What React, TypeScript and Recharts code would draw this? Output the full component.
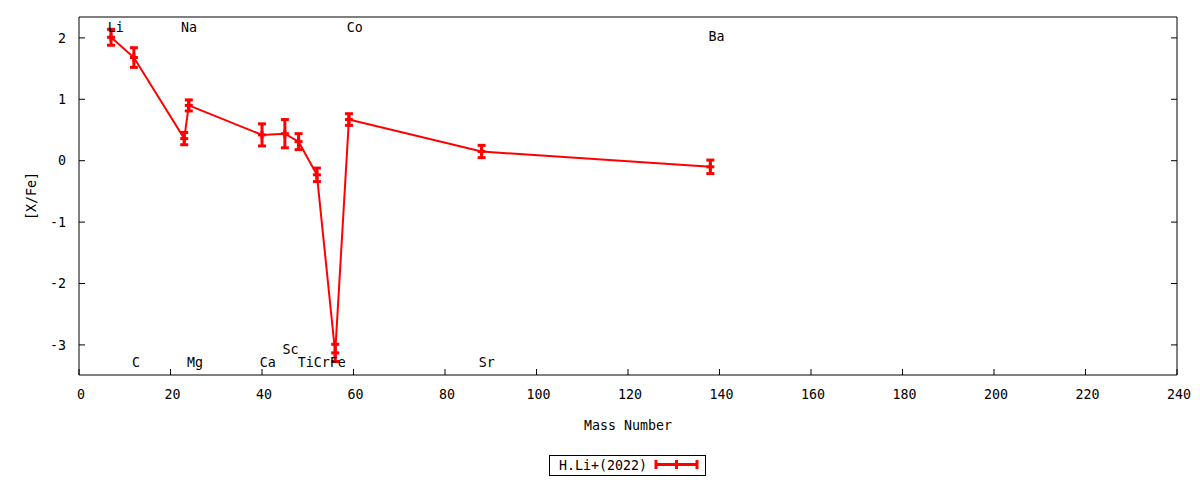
import React from 'react'
import { ComposedChart, ErrorBar, Legend, Line, Scatter, XAxis, YAxis } from 'recharts'

// abundance pattern, [X/Fe] against mass number
const elements = ['Li', 'C', 'Na', 'Mg', 'Ca', 'Sc', 'Ti', 'Cr', 'Fe', 'Co', 'Sr', 'Ba']
const massNumbers = [7, 12, 23, 24, 40, 45, 48, 52, 56, 59, 88, 138]
const abundances = [2.01, 1.68, 0.36, 0.9, 0.42, 0.44, 0.31, -0.23, -3.13, 0.67, 0.15, -0.1]
const abundanceErrors = [0.13, 0.16, 0.1, 0.09, 0.18, 0.23, 0.13, 0.11, 0.14, 0.095, 0.1, 0.11]

// element name labels placed in data coordinates
const labelNames = ['Li', 'Na', 'Co', 'Ba', 'C', 'Mg', 'Ca', 'Sc', 'Ti', 'Cr', 'Fe', 'Sr']
const labelX = [6.3, 22.3, 58.5, 137.6, 11.6, 23.6, 39.5, 44.5, 47.8, 51.3, 54.8, 87.4]
const labelY = [2.17, 2.17, 2.17, 2.02, -3.28, -3.28, -3.28, -3.07, -3.28, -3.28, -3.28, -3.28]

const xTicks = [0, 20, 40, 60, 80, 100, 120, 140, 160, 180, 200, 220, 240]
const yTicks = [-3, -2, -1, 0, 1, 2]
const xDomain = [0, 240]
const yDomain = [-3.49, 2.34]

const seriesName = 'H.Li+(2022)'
const xTitle = 'Mass Number'
const yTitle = '[X/Fe]'

const RED = '#ff0000'
const FONT = 'DejaVu Sans Mono'
const FS = 13.3

const series = massNumbers.map((m, i) => ({
  mass: m,
  value: abundances[i],
  err: abundanceErrors[i],
  element: elements[i],
}))

const labels = labelNames.map((n, i) => ({ mass: labelX[i], value: labelY[i], name: n }))

const tickStyle = { fill: '#000', fontSize: FS, fontFamily: FONT }

function PointMark(props: any) {
  const { cx, cy } = props
  if (cx == null || cy == null) return null
  return (
    <g>
      <line x1={cx - 4} x2={cx + 4} y1={cy} y2={cy} stroke={RED} strokeWidth={3} />
      <line x1={cx} x2={cx} y1={cy - 4} y2={cy + 4} stroke={RED} strokeWidth={3} />
    </g>
  )
}

function ElementLabel(props: any) {
  const { cx, cy, payload } = props
  return (
    <text x={cx} y={cy} dy="0.36em" textAnchor="start" fontSize={FS} fontFamily={FONT} fill="#000">
      {payload.name}
    </text>
  )
}

function XTitle(props: any) {
  const vb = props.viewBox
  return (
    <text x={vb.x + vb.width / 2} y={vb.y + 55} textAnchor="middle" fontSize={FS} fontFamily={FONT} fill="#000">
      {xTitle}
    </text>
  )
}

function YTitle(props: any) {
  const vb = props.viewBox
  const cy = vb.y + vb.height / 2
  return (
    <text
      transform={`translate(${vb.x + 36},${cy}) rotate(-90)`}
      textAnchor="middle"
      fontSize={FS}
      fontFamily={FONT}
      fill="#000"
    >
      {yTitle}
    </text>
  )
}

function LegendBox() {
  return (
    <svg width={157} height={21} style={{ display: 'block' }}>
      <rect x={0.5} y={0.5} width={156} height={20} fill="#fff" stroke="#000" />
      <text x={10} y={15} fontSize={FS} fontFamily={FONT} fill="#000">
        {seriesName}
      </text>
      <line x1={107} x2={148} y1={9.5} y2={9.5} stroke={RED} strokeWidth={3} />
      <line x1={107} x2={107} y1={5} y2={14} stroke={RED} strokeWidth={3} />
      <line x1={127.5} x2={127.5} y1={5} y2={14} stroke={RED} strokeWidth={3} />
      <line x1={148} x2={148} y1={5} y2={14} stroke={RED} strokeWidth={3} />
    </svg>
  )
}

export default function App() {
  return (
    <div style={{ position: 'absolute', left: 0, top: 0, background: '#fff' }}>
      <ComposedChart width={1200} height={480} margin={{ top: 16, right: 22, bottom: 0, left: 0 }}>
        <XAxis
          dataKey="mass"
          type="number"
          domain={xDomain}
          ticks={xTicks}
          interval={0}
          allowDataOverflow
          height={105}
          tickSize={-6}
          tickMargin={21}
          tick={{ ...tickStyle, dx: 2 }}
          axisLine={{ stroke: '#000' }}
          tickLine={{ stroke: '#000' }}
          label={<XTitle />}
        />
        <XAxis
          xAxisId="top"
          orientation="top"
          type="number"
          domain={xDomain}
          ticks={xTicks}
          interval={0}
          allowDataOverflow
          height={1}
          tickSize={-6}
          tickFormatter={() => ''}
          axisLine={{ stroke: '#000' }}
          tickLine={{ stroke: '#000' }}
        />
        <YAxis
          dataKey="value"
          type="number"
          domain={yDomain}
          ticks={yTicks}
          interval={0}
          allowDataOverflow
          width={79}
          tickSize={-6}
          tickMargin={19}
          tick={tickStyle}
          axisLine={{ stroke: '#000' }}
          tickLine={{ stroke: '#000' }}
          label={<YTitle />}
        />
        <YAxis
          yAxisId="right"
          orientation="right"
          type="number"
          domain={yDomain}
          ticks={yTicks}
          interval={0}
          allowDataOverflow
          width={1}
          tickSize={-6}
          tickFormatter={() => ''}
          axisLine={{ stroke: '#000' }}
          tickLine={{ stroke: '#000' }}
        />
        <Line
          data={series}
          dataKey="value"
          name={seriesName}
          stroke={RED}
          strokeWidth={2}
          type="linear"
          dot={<PointMark />}
          activeDot={false}
          isAnimationActive={false}
        >
          <ErrorBar dataKey="err" direction="y" width={4} stroke={RED} strokeWidth={3} isAnimationActive={false} />
        </Line>
        <Scatter
          data={labels}
          dataKey="value"
          shape={<ElementLabel />}
          isAnimationActive={false}
          legendType="none"
        />
        <Legend
          verticalAlign="middle"
          align="center"
          layout="horizontal"
          wrapperStyle={{ top: 455, left: 549, width: 157, height: 21 }}
          content={() => <LegendBox />}
        />
      </ComposedChart>
    </div>
  )
}
